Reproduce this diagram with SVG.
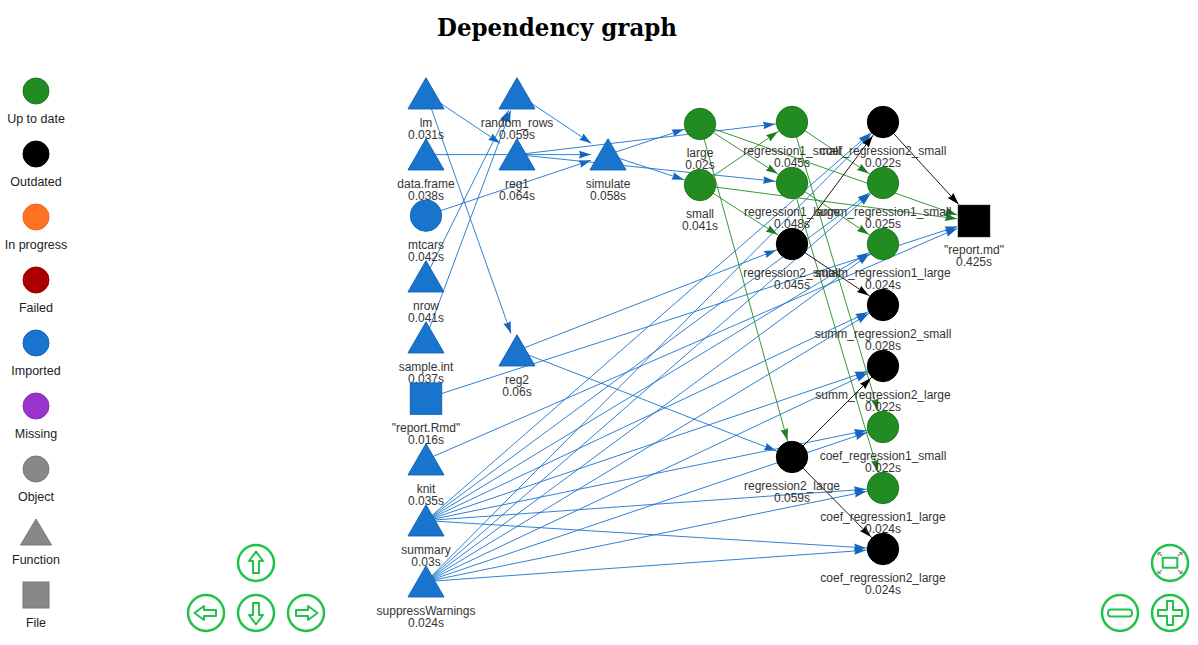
<svg xmlns="http://www.w3.org/2000/svg" xmlns:xlink="http://www.w3.org/1999/xlink" width="1198" height="645" viewBox="0 0 1198 645">
<style>
.lbl{font-family:"Liberation Sans",Arial,sans-serif;font-size:12px;fill:#343434;text-anchor:middle}
.leg{font-family:"Liberation Sans",Arial,sans-serif;font-size:12.5px;fill:#222;text-anchor:middle}
.eb{stroke:#1874CD;stroke-width:0.9;fill:none}
.eg{stroke:#228B22;stroke-width:0.9;fill:none}
.ek{stroke:#000;stroke-width:0.9;fill:none}
.ob{marker-end:url(#mb)}.xb{marker-end:url(#mbx)}
.og{marker-end:url(#mg)}.xg{marker-end:url(#mgx)}
.ok{marker-end:url(#mk)}.xk{marker-end:url(#mkx)}
.imp{fill:#1874CD;stroke:#1565B8;stroke-width:1}
.utd{fill:#228B22;stroke:#1D7A1D;stroke-width:1}
.out{fill:#000;stroke:#000;stroke-width:1}
.btn{fill:#fff;stroke:#22C24A;stroke-width:2.5}
.ico{fill:#fff;stroke:#22C24A;stroke-width:2;stroke-linejoin:round}
</style>
<defs>
<marker id="mb" markerUnits="userSpaceOnUse" markerWidth="13" markerHeight="8" refX="29" refY="3.8" orient="auto" style="overflow:visible"><path d="M12,3.8 L0,0 L1.2,3.8 L0,7.6 Z" fill="#1565C0"/></marker>
<marker id="mbx" markerUnits="userSpaceOnUse" markerWidth="13" markerHeight="8" refX="12" refY="3.8" orient="auto" style="overflow:visible"><path d="M12,3.8 L0,0 L1.2,3.8 L0,7.6 Z" fill="#1565C0"/></marker>
<marker id="mg" markerUnits="userSpaceOnUse" markerWidth="13" markerHeight="8" refX="29" refY="3.8" orient="auto" style="overflow:visible"><path d="M12,3.8 L0,0 L1.2,3.8 L0,7.6 Z" fill="#1E7B1E"/></marker>
<marker id="mgx" markerUnits="userSpaceOnUse" markerWidth="13" markerHeight="8" refX="12" refY="3.8" orient="auto" style="overflow:visible"><path d="M12,3.8 L0,0 L1.2,3.8 L0,7.6 Z" fill="#1E7B1E"/></marker>
<marker id="mk" markerUnits="userSpaceOnUse" markerWidth="13" markerHeight="8" refX="29" refY="3.8" orient="auto" style="overflow:visible"><path d="M12,3.8 L0,0 L1.2,3.8 L0,7.6 Z" fill="#000"/></marker>
<marker id="mkx" markerUnits="userSpaceOnUse" markerWidth="13" markerHeight="8" refX="12" refY="3.8" orient="auto" style="overflow:visible"><path d="M12,3.8 L0,0 L1.2,3.8 L0,7.6 Z" fill="#000"/></marker>
<path id="tri" d="M0,-15.85 L18,15.35 L-18,15.35 Z"/>
</defs>
<rect width="1198" height="645" fill="#fff"/>
<text x="557" y="36" font-family="'DejaVu Serif','Liberation Serif',serif" font-weight="bold" font-size="24" text-anchor="middle" textLength="240" lengthAdjust="spacingAndGlyphs" fill="#000">Dependency graph</text>

<g id="legend">
<g id="leg-uptodate"><circle cx="36" cy="91" r="13" class="utd"/><text x="36" y="122.5" class="leg">Up to date</text></g>
<g id="leg-outdated"><circle cx="36" cy="154" r="13" class="out"/><text x="36" y="185.5" class="leg">Outdated</text></g>
<g id="leg-inprogress"><circle cx="36" cy="217" r="13" fill="#FF7221" stroke="#E8661C"/><text x="36" y="248.5" class="leg">In progress</text></g>
<g id="leg-failed"><circle cx="36" cy="280" r="13" fill="#AA0000" stroke="#990000"/><text x="36" y="311.5" class="leg">Failed</text></g>
<g id="leg-imported"><circle cx="36" cy="343" r="13" class="imp"/><text x="36" y="374.5" class="leg">Imported</text></g>
<g id="leg-missing"><circle cx="36" cy="406" r="13" fill="#9A32CD" stroke="#8A2DB8"/><text x="36" y="437.5" class="leg">Missing</text></g>
<g id="leg-object"><circle cx="36" cy="469" r="13" fill="#888" stroke="#7A7A7A"/><text x="36" y="500.5" class="leg">Object</text></g>
<g id="leg-function"><path d="M36,519 L51.5,545 L20.5,545 Z" fill="#888" stroke="#7A7A7A"/><text x="36" y="563.5" class="leg">Function</text></g>
<g id="leg-file"><rect x="23" y="582" width="26" height="26" fill="#888" stroke="#7A7A7A"/><text x="36" y="626.5" class="leg">File</text></g>
</g>

<g id="connectors">
<line class="eb xb" x1="426" y1="93.6" x2="500.2" y2="143.3"/>
<line class="eb xb" x1="426" y1="93.6" x2="511" y2="333.6"/>
<line class="eb xb" x1="426" y1="276.6" x2="508.6" y2="110.5"/>
<line class="eb xb" x1="426" y1="337.6" x2="510.7" y2="110.6"/>
<line class="eb xb" x1="426" y1="154.6" x2="591" y2="154.6"/>
<line class="eb xb" x1="426" y1="215.6" x2="591" y2="160.3"/>
<line class="eb xb" x1="517" y1="93.6" x2="591.2" y2="143.3"/>
<line class="eb xb" x1="426" y1="459.6" x2="957.1" y2="228.4"/>
<line class="eb xb" x1="426" y1="398.6" x2="957.1" y2="226.5"/>
<line class="eb ob" x1="608" y1="154.6" x2="700" y2="124"/>
<line class="eb ob" x1="608" y1="154.6" x2="700" y2="185"/>
<line class="eb ob" x1="517" y1="154.6" x2="792" y2="122"/>
<line class="eb ob" x1="517" y1="154.6" x2="792" y2="183"/>
<line class="eb ob" x1="517" y1="350.6" x2="792" y2="244"/>
<line class="eb ob" x1="517" y1="350.6" x2="792" y2="457"/>
<line class="eb ob" x1="426" y1="520.6" x2="883" y2="122"/>
<line class="eb ob" x1="426" y1="520.6" x2="883" y2="183"/>
<line class="eb ob" x1="426" y1="520.6" x2="883" y2="244"/>
<line class="eb ob" x1="426" y1="520.6" x2="883" y2="305"/>
<line class="eb ob" x1="426" y1="520.6" x2="883" y2="366"/>
<line class="eb ob" x1="426" y1="520.6" x2="883" y2="427"/>
<line class="eb ob" x1="426" y1="520.6" x2="883" y2="488"/>
<line class="eb ob" x1="426" y1="520.6" x2="883" y2="549"/>
<line class="eb ob" x1="426" y1="581.6" x2="883" y2="122"/>
<line class="eb ob" x1="426" y1="581.6" x2="883" y2="183"/>
<line class="eb ob" x1="426" y1="581.6" x2="883" y2="244"/>
<line class="eb ob" x1="426" y1="581.6" x2="883" y2="305"/>
<line class="eb ob" x1="426" y1="581.6" x2="883" y2="366"/>
<line class="eb ob" x1="426" y1="581.6" x2="883" y2="427"/>
<line class="eb ob" x1="426" y1="581.6" x2="883" y2="488"/>
<line class="eb ob" x1="426" y1="581.6" x2="883" y2="549"/>
<line class="eg og" x1="700" y1="124" x2="792" y2="183"/>
<line class="eg og" x1="700" y1="124" x2="792" y2="457"/>
<line class="eg og" x1="700" y1="185" x2="792" y2="122"/>
<line class="eg og" x1="700" y1="185" x2="792" y2="244"/>
<line class="eg xg" x1="700" y1="124" x2="957" y2="215"/>
<line class="eg xg" x1="700" y1="185" x2="957" y2="218.8"/>
<line class="eg og" x1="792" y1="122" x2="883" y2="183"/>
<line class="eg og" x1="792" y1="122" x2="883" y2="427"/>
<line class="eg og" x1="792" y1="183" x2="883" y2="244"/>
<line class="eg og" x1="792" y1="183" x2="883" y2="488"/>
<line class="ek ok" x1="792" y1="244" x2="883" y2="305"/>
<line class="ek ok" x1="792" y1="244" x2="883" y2="122"/>
<line class="ek ok" x1="792" y1="457" x2="883" y2="366"/>
<line class="ek ok" x1="792" y1="457" x2="883" y2="549"/>
<line class="ek xk" x1="883" y1="122" x2="958.6" y2="204.3"/>
</g>

<g id="node-lm"><use xlink:href="#tri" x="426" y="93.6" class="imp"/><text class="lbl" x="426" y="126.9">lm</text><text class="lbl" x="426" y="138.9">0.031s</text></g>
<g id="node-data.frame"><use xlink:href="#tri" x="426" y="154.6" class="imp"/><text class="lbl" x="426" y="187.9">data.frame</text><text class="lbl" x="426" y="199.9">0.038s</text></g>
<g id="node-mtcars"><circle cx="426" cy="215.6" r="15.7" class="imp"/><text class="lbl" x="426" y="248.9">mtcars</text><text class="lbl" x="426" y="260.9">0.042s</text></g>
<g id="node-nrow"><use xlink:href="#tri" x="426" y="276.6" class="imp"/><text class="lbl" x="426" y="309.9">nrow</text><text class="lbl" x="426" y="321.9">0.041s</text></g>
<g id="node-sample.int"><use xlink:href="#tri" x="426" y="337.6" class="imp"/><text class="lbl" x="426" y="370.9">sample.int</text><text class="lbl" x="426" y="382.9">0.037s</text></g>
<g id="node-report.Rmd"><rect x="410.3" y="382.9" width="31.4" height="31.4" class="imp"/><text class="lbl" x="426" y="431.9">"report.Rmd"</text><text class="lbl" x="426" y="443.9">0.016s</text></g>
<g id="node-knit"><use xlink:href="#tri" x="426" y="459.6" class="imp"/><text class="lbl" x="426" y="492.9">knit</text><text class="lbl" x="426" y="504.9">0.035s</text></g>
<g id="node-summary"><use xlink:href="#tri" x="426" y="520.6" class="imp"/><text class="lbl" x="426" y="553.9">summary</text><text class="lbl" x="426" y="565.9">0.03s</text></g>
<g id="node-suppressWarnings"><use xlink:href="#tri" x="426" y="581.6" class="imp"/><text class="lbl" x="426" y="614.9">suppressWarnings</text><text class="lbl" x="426" y="626.9">0.024s</text></g>

<g id="node-random_rows"><use xlink:href="#tri" x="517" y="93.6" class="imp"/><text class="lbl" x="517" y="126.9">random_rows</text><text class="lbl" x="517" y="138.9">0.059s</text></g>
<g id="node-reg1"><use xlink:href="#tri" x="517" y="154.6" class="imp"/><text class="lbl" x="517" y="187.9">reg1</text><text class="lbl" x="517" y="199.9">0.064s</text></g>
<g id="node-reg2"><use xlink:href="#tri" x="517" y="350.6" class="imp"/><text class="lbl" x="517" y="383.9">reg2</text><text class="lbl" x="517" y="395.9">0.06s</text></g>
<g id="node-simulate"><use xlink:href="#tri" x="608" y="154.6" class="imp"/><text class="lbl" x="608" y="187.9">simulate</text><text class="lbl" x="608" y="199.9">0.058s</text></g>

<g id="node-large"><circle cx="700" cy="124" r="15.7" class="utd"/><text class="lbl" x="700" y="157.3">large</text><text class="lbl" x="700" y="169.3">0.02s</text></g>
<g id="node-small"><circle cx="700" cy="185" r="15.7" class="utd"/><text class="lbl" x="700" y="218.3">small</text><text class="lbl" x="700" y="230.3">0.041s</text></g>

<g id="node-regression1_small"><circle cx="792" cy="122" r="15.7" class="utd"/><text class="lbl" x="792" y="155.3">regression1_small</text><text class="lbl" x="792" y="167.3">0.045s</text></g>
<g id="node-regression1_large"><circle cx="792" cy="183" r="15.7" class="utd"/><text class="lbl" x="792" y="216.3">regression1_large</text><text class="lbl" x="792" y="228.3">0.048s</text></g>
<g id="node-regression2_small"><circle cx="792" cy="244" r="15.7" class="out"/><text class="lbl" x="792" y="277.3">regression2_small</text><text class="lbl" x="792" y="289.3">0.045s</text></g>
<g id="node-regression2_large"><circle cx="792" cy="457" r="15.7" class="out"/><text class="lbl" x="792" y="490.3">regression2_large</text><text class="lbl" x="792" y="502.3">0.059s</text></g>

<g id="node-coef_regression2_small"><circle cx="883" cy="122" r="15.7" class="out"/><text class="lbl" x="883" y="155.3">coef_regression2_small</text><text class="lbl" x="883" y="167.3">0.022s</text></g>
<g id="node-summ_regression1_small"><circle cx="883" cy="183" r="15.7" class="utd"/><text class="lbl" x="883" y="216.3">summ_regression1_small</text><text class="lbl" x="883" y="228.3">0.025s</text></g>
<g id="node-summ_regression1_large"><circle cx="883" cy="244" r="15.7" class="utd"/><text class="lbl" x="883" y="277.3">summ_regression1_large</text><text class="lbl" x="883" y="289.3">0.024s</text></g>
<g id="node-summ_regression2_small"><circle cx="883" cy="305" r="15.7" class="out"/><text class="lbl" x="883" y="338.3">summ_regression2_small</text><text class="lbl" x="883" y="350.3">0.028s</text></g>
<g id="node-summ_regression2_large"><circle cx="883" cy="366" r="15.7" class="out"/><text class="lbl" x="883" y="399.3">summ_regression2_large</text><text class="lbl" x="883" y="411.3">0.022s</text></g>
<g id="node-coef_regression1_small"><circle cx="883" cy="427" r="15.7" class="utd"/><text class="lbl" x="883" y="460.3">coef_regression1_small</text><text class="lbl" x="883" y="472.3">0.022s</text></g>
<g id="node-coef_regression1_large"><circle cx="883" cy="488" r="15.7" class="utd"/><text class="lbl" x="883" y="521.3">coef_regression1_large</text><text class="lbl" x="883" y="533.3">0.024s</text></g>
<g id="node-coef_regression2_large"><circle cx="883" cy="549" r="15.7" class="out"/><text class="lbl" x="883" y="582.3">coef_regression2_large</text><text class="lbl" x="883" y="594.3">0.024s</text></g>

<g id="node-report.md"><rect x="958.3" y="205.3" width="31.4" height="31.4" class="out"/><text class="lbl" x="974" y="254.3">"report.md"</text><text class="lbl" x="974" y="266.3">0.425s</text></g>

<g id="navigation">
<g id="nav-up" transform="translate(256,563)"><circle r="18" class="btn"/><path class="ico" d="M0,-11.5 L7,-2 L3,-2 L3,10 L-3,10 L-3,-2 L-7,-2 Z"/></g>
<g id="nav-left" transform="translate(206,613) rotate(-90)"><circle r="18" class="btn"/><path class="ico" d="M0,-11.5 L7,-2 L3,-2 L3,10 L-3,10 L-3,-2 L-7,-2 Z"/></g>
<g id="nav-down" transform="translate(256,613) rotate(180)"><circle r="18" class="btn"/><path class="ico" d="M0,-11.5 L7,-2 L3,-2 L3,10 L-3,10 L-3,-2 L-7,-2 Z"/></g>
<g id="nav-right" transform="translate(306,613) rotate(90)"><circle r="18" class="btn"/><path class="ico" d="M0,-11.5 L7,-2 L3,-2 L3,10 L-3,10 L-3,-2 L-7,-2 Z"/></g>
<g id="nav-fit" transform="translate(1170,563)"><circle r="18" class="btn"/><rect class="ico" x="-7.3" y="-5.3" width="14.6" height="10" />
<g stroke="#8a8a8a" stroke-width="1.2" fill="none"><path d="M-8,-7 L-12,-10.5 M-12,-10.5 L-12,-7.5 M-12,-10.5 L-9,-10.5"/><path d="M8,-7 L12,-10.5 M12,-10.5 L12,-7.5 M12,-10.5 L9,-10.5"/><path d="M-8,7 L-12,10.5 M-12,10.5 L-12,7.5 M-12,10.5 L-9,10.5"/><path d="M8,7 L12,10.5 M12,10.5 L12,7.5 M12,10.5 L9,10.5"/></g></g>
<g id="nav-zoomout" transform="translate(1120,613)"><circle r="18" class="btn"/><rect class="ico" x="-12" y="-3.5" width="24" height="7" rx="3"/></g>
<g id="nav-zoomin" transform="translate(1170,613)"><circle r="18" class="btn"/><path class="ico" d="M-3,-12 H3 V-3 H12 V3 H3 V12 H-3 V3 H-12 V-3 H-3 Z"/></g>
</g>
</svg>
